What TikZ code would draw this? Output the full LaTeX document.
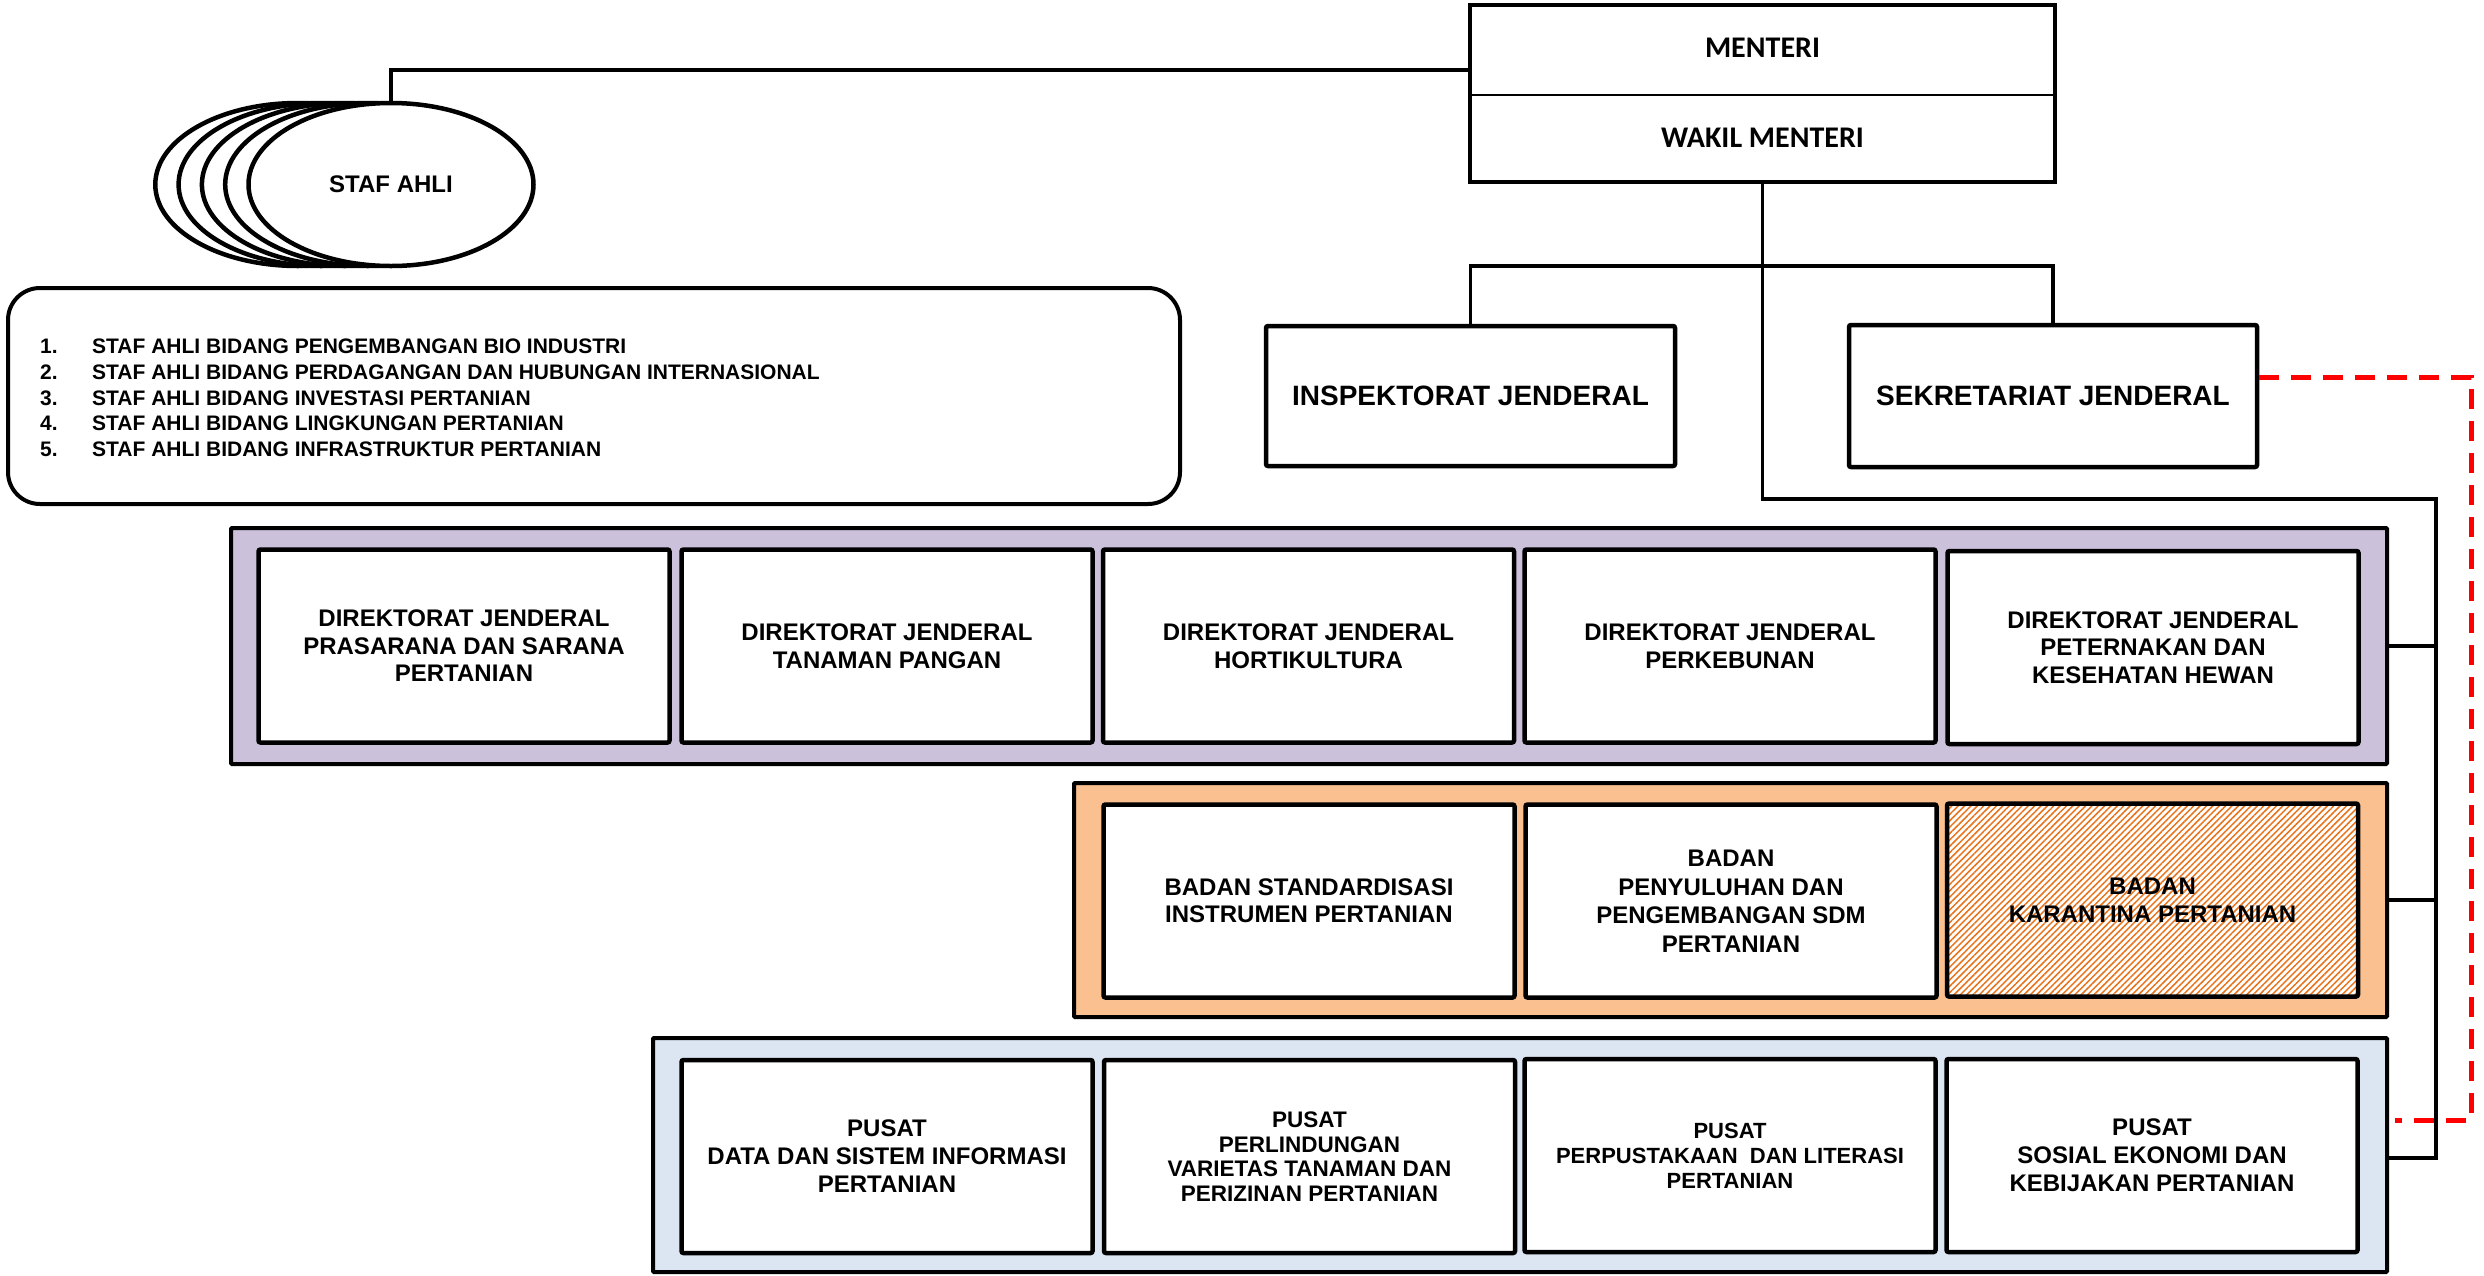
\documentclass[tikz,border=0pt]{standalone}
\usepackage{fontspec}
\setmainfont{Liberation Sans}
\newfontfamily\calib{Carlito}
\usetikzlibrary{shapes.geometric,patterns.meta}
\definecolor{lav}{HTML}{CCC1DA}
\definecolor{peach}{HTML}{FAC090}
\definecolor{pale}{HTML}{DCE6F2}
\definecolor{hatch}{HTML}{E8731A}
\tikzset{
  unitbox/.style={draw, line width=4.5pt, fill=white, rounded corners=2pt,
    minimum width=411pt, minimum height=193pt, align=center, inner sep=0pt,
    font=\fontsize{24}{27.6}\selectfont\bfseries},
  grpbox/.style={draw, line width=4pt, inner sep=0pt, rounded corners=1pt},
  conn/.style={line width=3.5pt},
  reddash/.style={draw=red, line width=5pt, dash pattern=on 20pt off 12pt},
  oval/.style={draw, ellipse, line width=4.5pt, fill=white, minimum width=285pt,
    minimum height=163pt, inner sep=0pt},
}
\begin{document}
\begin{tikzpicture}[x=1pt,y=-1pt]
\useasboundingbox (0,0) rectangle (2484,1275);

% ---------- Menteri ----------
\node[draw, line width=4pt, minimum width=585pt, minimum height=177pt, inner sep=0pt] (menteri) at (1762.5,93.5) {};
\draw[line width=2pt] (menteri.west |- 0,95) -- (menteri.east |- 0,95);
\node[font=\calib\fontsize{30}{36}\selectfont\bfseries] (mtext) at (1762.5,48) {MENTERI};
\node[font=\calib\fontsize{30}{36}\selectfont\bfseries] (wtext) at (1762.5,138) {WAKIL MENTERI};

% ---------- Staf ahli ----------
\node[oval] (staf4) at (297.8,184.5) {};
\node[oval] (staf3) at (321.1,184.5) {};
\node[oval] (staf2) at (344.4,184.5) {};
\node[oval] (staf1) at (367.7,184.5) {};
\node[oval, font=\fontsize{24}{28}\selectfont\bfseries] (staf) at (391,184.5) {STAF AHLI};
\draw[conn] (staf.north) |- ([yshift=23.5pt]menteri.west);

% ---------- list ----------
\node[draw, line width=4pt, rounded corners=32pt, minimum width=1172pt, minimum height=216pt, inner sep=0pt] (list) at (594,396) {};
\node[anchor=west, inner sep=0pt, font=\fontsize{21}{25.7}\selectfont\bfseries, align=left] (listtext) at (40,400) {%
\begin{tabular}{@{}p{52pt}@{}l@{}}
1.&STAF AHLI BIDANG PENGEMBANGAN BIO INDUSTRI\\
2.&STAF AHLI BIDANG PERDAGANGAN DAN HUBUNGAN INTERNASIONAL\\
3.&STAF AHLI BIDANG INVESTASI PERTANIAN\\
4.&STAF AHLI BIDANG LINGKUNGAN PERTANIAN\\
5.&STAF AHLI BIDANG INFRASTRUKTUR PERTANIAN
\end{tabular}};

% ---------- Inspektorat / Sekretariat ----------
\node[unitbox, minimum width=409pt, minimum height=140pt, font=\fontsize{28}{32}\selectfont\bfseries] (insp) at (1470.5,396) {INSPEKTORAT JENDERAL};
\node[unitbox, minimum width=408pt, minimum height=142pt, font=\fontsize{28}{32}\selectfont\bfseries] (sekr) at (2053,396) {SEKRETARIAT JENDERAL};

% ---------- group containers ----------
\node[grpbox, fill=lav, minimum width=2156pt, minimum height=236pt] (dirrow) at (1309,646) {};
\node[grpbox, fill=peach, minimum width=1313pt, minimum height=234pt] (badanrow) at (1730.5,900) {};
\node[grpbox, fill=pale, minimum width=1734pt, minimum height=234pt] (pusatrow) at (1520,1155) {};

% ---------- Direktorat Jenderal ----------
\node[unitbox] (dj1) at (464,646) {DIREKTORAT JENDERAL\\PRASARANA DAN SARANA\\PERTANIAN};
\node[unitbox] (dj2) at (887,646) {DIREKTORAT JENDERAL\\TANAMAN PANGAN};
\node[unitbox] (dj3) at (1308.5,646) {DIREKTORAT JENDERAL\\HORTIKULTURA};
\node[unitbox] (dj4) at (1730,646) {DIREKTORAT JENDERAL\\PERKEBUNAN};
\node[unitbox] (dj5) at (2153,647.5) {DIREKTORAT JENDERAL\\PETERNAKAN DAN\\KESEHATAN HEWAN};

% ---------- Badan ----------
\node[unitbox, font=\fontsize{24}{27}\selectfont\bfseries] (bd1) at (1309,901) {BADAN STANDARDISASI\\INSTRUMEN PERTANIAN};
\node[unitbox, font=\fontsize{24}{28.5}\selectfont\bfseries] (bd2) at (1731,901) {BADAN\\PENYULUHAN DAN\\PENGEMBANGAN SDM\\PERTANIAN};
\node[unitbox, fill=none, preaction={fill=white}, pattern={Lines[angle=45,distance=4.5pt,line width=1.5pt]}, pattern color=hatch, font=\fontsize{24}{28.5}\selectfont\bfseries] (bd3) at (2152.5,900) {BADAN\\KARANTINA PERTANIAN};

% ---------- Pusat ----------
\node[unitbox, font=\fontsize{24}{28}\selectfont\bfseries] (ps1) at (887,1156.5) {PUSAT\\DATA DAN SISTEM INFORMASI\\PERTANIAN};
\node[unitbox, font=\fontsize{22.5}{24.5}\selectfont\bfseries] (ps2) at (1309.5,1156.5) {PUSAT\\PERLINDUNGAN\\VARIETAS TANAMAN DAN\\PERIZINAN PERTANIAN};
\node[unitbox, font=\fontsize{22}{25}\selectfont\bfseries] (ps3) at (1730,1155.5) {PUSAT\\PERPUSTAKAAN\ \ DAN LITERASI\\PERTANIAN};
\node[unitbox, font=\fontsize{24}{28}\selectfont\bfseries] (ps4) at (2152,1155.5) {PUSAT\\SOSIAL EKONOMI DAN\\KEBIJAKAN PERTANIAN};

% ---------- connectors ----------
\coordinate (br) at (1762.5,266);
\coordinate (j1) at (1762.5,499);
\coordinate (j2) at (2436,499);
\coordinate (j3) at (2436,1158);
\draw[conn] (menteri.south) -- (j1) -- (j2) -- (j3) -- (pusatrow.east |- j3);
\draw[conn] (insp.north) |- (br) -| (sekr.north);
\draw[conn] (dirrow.east) -- (dirrow.east -| j2);
\draw[conn] (badanrow.east) -- (badanrow.east -| j2);

% ---------- red dashed ----------
\coordinate (r1) at (2471,377);
\coordinate (r2) at (2471,1120);
\draw[reddash] ([yshift=19pt]sekr.east) -- (r1) -- (r2) -- ([xshift=6pt]pusatrow.east |- r2);
\end{tikzpicture}
\end{document}
